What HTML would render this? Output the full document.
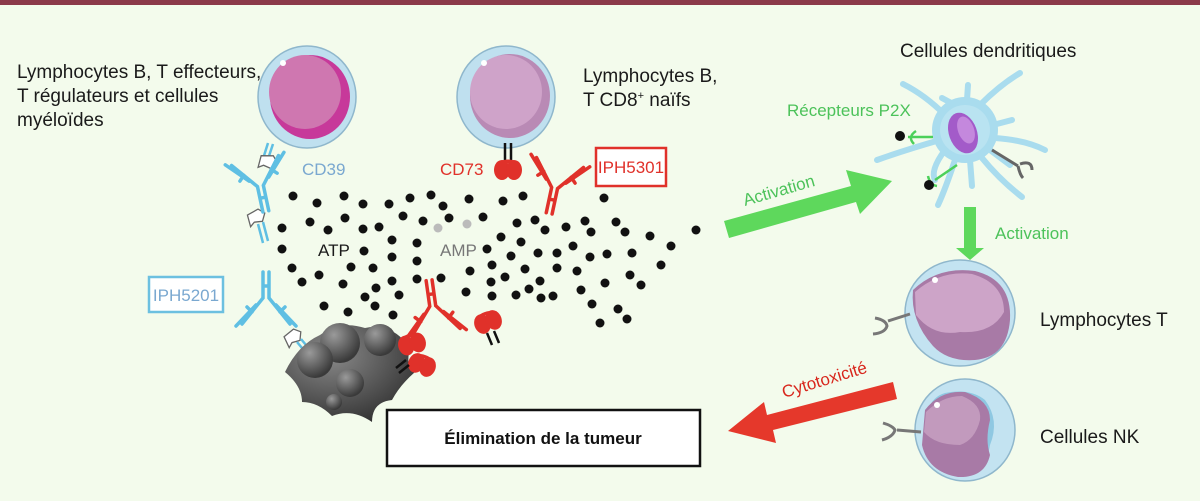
<!DOCTYPE html>
<html><head><meta charset="utf-8"><style>
html,body{margin:0;padding:0;background:#f3fbec;}
svg{display:block;}
text{font-family:"Liberation Sans",sans-serif;}
</style></head><body>
<svg width="1200" height="501" viewBox="0 0 1200 501" xmlns="http://www.w3.org/2000/svg">
<defs>
<radialGradient id="tum" cx="0.35" cy="0.3" r="0.8"><stop offset="0" stop-color="#8a8a8a"/><stop offset="1" stop-color="#2e2e2e"/></radialGradient>
<radialGradient id="bub" cx="0.35" cy="0.3" r="0.7"><stop offset="0" stop-color="#9a9a9a"/><stop offset="1" stop-color="#3a3a3a"/></radialGradient>
<g id="ab">
<path d="M-3,28 V2 L-24,-24 M3,28 V2 L24,-24 M-10,-5 L-30,-26 M10,-5 L30,-26 M-3,14 H3 M-14,-12 L-19,-7 M14,-12 L19,-7" fill="none" stroke-width="3.5" stroke-linecap="round"/>
</g>
<g id="cd39"><path d="M-8,-6 L4,-8 L9,-2 L4,5 L-4,3 L-9,6 Z" fill="#fff" stroke="#666" stroke-width="1.3"/></g>
<g id="cd73"><ellipse cx="-6" cy="0" rx="8" ry="10" fill="#e0312a"/><ellipse cx="6" cy="0" rx="8" ry="10" fill="#e0312a"/><path d="M-12,-7 Q0,-14 12,-7" fill="#e0312a"/></g>
</defs>
<rect x="0" y="0" width="1200" height="501" fill="#f3fbec"/>
<rect x="0" y="0" width="1200" height="5" fill="#8b3a4a"/>

<g font-size="19" fill="#1a1a1a">
<text x="17" y="78">Lymphocytes B, T effecteurs,</text>
<text x="17" y="102">T régulateurs et cellules</text>
<text x="17" y="126">myéloïdes</text>
<text x="583" y="82">Lymphocytes B,</text>
<text x="583" y="106">T CD8<tspan font-size="11" dy="-7">+</tspan><tspan dy="7"> naïfs</tspan></text>
<text x="900" y="57">Cellules dendritiques</text>
<text x="1040" y="326">Lymphocytes T</text>
<text x="1040" y="443">Cellules NK</text>
</g>

<ellipse cx="307" cy="97" rx="49" ry="51" fill="#bfe0ef" stroke="#8fb7cc" stroke-width="1.5"/>
<ellipse cx="310" cy="97" rx="40" ry="42" fill="#c7399a"/>
<ellipse cx="305" cy="92" rx="36" ry="37" fill="#cf77b0"/>
<circle cx="283" cy="63" r="3" fill="#fff"/>
<ellipse cx="506" cy="97" rx="49" ry="51" fill="#bfe0ef" stroke="#8fb7cc" stroke-width="1.5"/>
<ellipse cx="510" cy="96" rx="40" ry="42" fill="#b98ab5"/>
<ellipse cx="506" cy="92" rx="36" ry="37" fill="#cfa3c9"/>
<circle cx="484" cy="63" r="3" fill="#fff"/>

<path d="M268,143 L262,162 M273,144 L267,162" stroke="#5fbfe3" stroke-width="2.5"/>
<use href="#cd39" transform="translate(268,163) rotate(10)"/>
<use href="#cd39" transform="translate(257,218) rotate(-20)"/>
<path d="M258,224 L263,243 M263,222 L268,241" stroke="#5fbfe3" stroke-width="2.5"/>
<use href="#cd39" transform="translate(294,338) rotate(-30)"/>
<path d="M297,342 L307,354 M301,339 L311,351" stroke="#5fbfe3" stroke-width="2.5"/>

<g stroke="#5fbfe3"><use href="#ab" transform="translate(260,184) rotate(-12)"/>
<use href="#ab" transform="translate(266,300) rotate(180)"/></g>
<g stroke="#e0312a"><use href="#ab" transform="translate(555,186) rotate(12)"/>
<use href="#ab" transform="translate(433,308) rotate(172)"/></g>

<path d="M505,143 V160 M511,143 V160" stroke="#111" stroke-width="2.5"/>
<use href="#cd73" transform="translate(508,170)"/>
<use href="#cd73" transform="translate(488,322) rotate(-20)"/>
<path d="M487,333 L492,345 M494,331 L499,343" stroke="#111" stroke-width="2.5"/>

<path d="M285,372 Q298,345 320,335 Q340,320 365,328 Q392,322 410,348 Q405,368 415,372 Q400,385 392,400 Q372,402 372,422 Q352,408 332,416 Q318,402 302,402 Q302,386 285,372 Z" fill="url(#tum)"/>
<circle cx="340" cy="343" r="20" fill="url(#bub)"/>
<circle cx="380" cy="340" r="16" fill="url(#bub)"/>
<circle cx="315" cy="360" r="18" fill="url(#bub)"/>
<circle cx="350" cy="383" r="14" fill="url(#bub)"/>
<circle cx="334" cy="402" r="8" fill="url(#bub)"/>
<use href="#cd73" transform="translate(412,344) rotate(-15)"/>
<use href="#cd73" transform="translate(422,365) rotate(20)"/>
<path d="M396,368 L406,360 M399,373 L409,365" stroke="#111" stroke-width="2.5"/>

<text x="302" y="175" font-size="17" fill="#7aa8d0">CD39</text>
<text x="440" y="175" font-size="17" fill="#e0312a">CD73</text>
<rect x="596" y="148" width="70" height="38" fill="#fff" stroke="#e0312a" stroke-width="2.5"/>
<text x="631" y="173" font-size="17" fill="#e0312a" text-anchor="middle">IPH5301</text>
<rect x="149" y="277" width="74" height="35" fill="#fff" stroke="#6cc0e0" stroke-width="2.5"/>
<text x="186" y="301" font-size="17" fill="#7aa8d0" text-anchor="middle">IPH5201</text>
<text x="318" y="256" font-size="17" fill="#1a1a1a">ATP</text>
<text x="440" y="256" font-size="17" fill="#777">AMP</text>

<g fill="#111">
<circle cx="293" cy="196" r="4.5"/><circle cx="317" cy="203" r="4.5"/><circle cx="344" cy="196" r="4.5"/><circle cx="363" cy="204" r="4.5"/><circle cx="389" cy="204" r="4.5"/><circle cx="410" cy="198" r="4.5"/><circle cx="431" cy="195" r="4.5"/><circle cx="443" cy="206" r="4.5"/><circle cx="469" cy="199" r="4.5"/><circle cx="503" cy="201" r="4.5"/><circle cx="523" cy="196" r="4.5"/><circle cx="604" cy="198" r="4.5"/>
<circle cx="282" cy="228" r="4.5"/><circle cx="310" cy="222" r="4.5"/><circle cx="328" cy="230" r="4.5"/><circle cx="345" cy="218" r="4.5"/><circle cx="363" cy="229" r="4.5"/><circle cx="379" cy="227" r="4.5"/><circle cx="403" cy="216" r="4.5"/><circle cx="423" cy="221" r="4.5"/><circle cx="449" cy="218" r="4.5"/><circle cx="483" cy="217" r="4.5"/><circle cx="517" cy="223" r="4.5"/><circle cx="535" cy="220" r="4.5"/><circle cx="545" cy="230" r="4.5"/><circle cx="566" cy="227" r="4.5"/><circle cx="585" cy="221" r="4.5"/><circle cx="591" cy="232" r="4.5"/><circle cx="616" cy="222" r="4.5"/><circle cx="625" cy="232" r="4.5"/><circle cx="650" cy="236" r="4.5"/><circle cx="696" cy="230" r="4.5"/>
<circle cx="282" cy="249" r="4.5"/><circle cx="392" cy="240" r="4.5"/><circle cx="364" cy="251" r="4.5"/><circle cx="417" cy="243" r="4.5"/><circle cx="487" cy="249" r="4.5"/><circle cx="501" cy="237" r="4.5"/><circle cx="521" cy="242" r="4.5"/><circle cx="538" cy="253" r="4.5"/><circle cx="557" cy="253" r="4.5"/><circle cx="573" cy="246" r="4.5"/><circle cx="590" cy="257" r="4.5"/><circle cx="607" cy="254" r="4.5"/><circle cx="632" cy="253" r="4.5"/><circle cx="671" cy="246" r="4.5"/>
<circle cx="292" cy="268" r="4.5"/><circle cx="319" cy="275" r="4.5"/><circle cx="351" cy="267" r="4.5"/><circle cx="373" cy="268" r="4.5"/><circle cx="392" cy="257" r="4.5"/><circle cx="417" cy="261" r="4.5"/><circle cx="470" cy="271" r="4.5"/><circle cx="492" cy="265" r="4.5"/><circle cx="511" cy="256" r="4.5"/><circle cx="525" cy="269" r="4.5"/><circle cx="557" cy="268" r="4.5"/><circle cx="577" cy="271" r="4.5"/><circle cx="661" cy="265" r="4.5"/>
<circle cx="302" cy="282" r="4.5"/><circle cx="343" cy="284" r="4.5"/><circle cx="376" cy="288" r="4.5"/><circle cx="392" cy="281" r="4.5"/><circle cx="417" cy="279" r="4.5"/><circle cx="441" cy="278" r="4.5"/><circle cx="491" cy="282" r="4.5"/><circle cx="505" cy="277" r="4.5"/><circle cx="540" cy="281" r="4.5"/><circle cx="605" cy="283" r="4.5"/><circle cx="630" cy="275" r="4.5"/><circle cx="641" cy="285" r="4.5"/>
<circle cx="365" cy="297" r="4.5"/><circle cx="399" cy="295" r="4.5"/><circle cx="466" cy="292" r="4.5"/><circle cx="492" cy="296" r="4.5"/><circle cx="516" cy="295" r="4.5"/><circle cx="529" cy="289" r="4.5"/><circle cx="541" cy="298" r="4.5"/><circle cx="553" cy="296" r="4.5"/><circle cx="581" cy="290" r="4.5"/>
<circle cx="324" cy="306" r="4.5"/><circle cx="348" cy="312" r="4.5"/><circle cx="375" cy="306" r="4.5"/><circle cx="393" cy="315" r="4.5"/><circle cx="592" cy="304" r="4.5"/><circle cx="618" cy="309" r="4.5"/><circle cx="600" cy="323" r="4.5"/><circle cx="627" cy="319" r="4.5"/>
</g>
<circle cx="438" cy="228" r="4.5" fill="#bbb"/><circle cx="467" cy="224" r="4.5" fill="#bbb"/>

<polygon points="724,221 851,186 846,170 892,181 860,214 856,202 729,238" fill="#5ed85c"/>
<text x="0" y="0" font-size="17" fill="#4cc25a" transform="translate(745,206) rotate(-16)">Activation</text>

<g stroke="#a9dcee" stroke-width="6" stroke-linecap="round" fill="none">
<path d="M945,115 Q925,95 903,84"/>
<path d="M955,105 L942,98"/>
<path d="M967,100 L968,85"/>
<path d="M980,105 Q1000,85 1020,73"/>
<path d="M993,125 L1012,120"/>
<path d="M995,138 Q1025,140 1045,150"/>
<path d="M940,140 Q905,150 877,160"/>
<path d="M945,150 Q930,170 935,180"/>
<path d="M955,160 Q945,190 938,205"/>
<path d="M970,160 L972,186"/>
<path d="M982,158 Q1000,180 1022,197"/>
<path d="M990,150 L1010,165"/>
</g>
<circle cx="965" cy="130" r="33" fill="#a9dcee"/>
<circle cx="965" cy="130" r="25" fill="#b9e3f1"/>
<ellipse cx="963" cy="133" rx="14" ry="21" transform="rotate(-20 963 133)" fill="#a35bc9"/>
<ellipse cx="966" cy="130" rx="8" ry="14" transform="rotate(-20 966 130)" fill="#c488dd"/>
<path d="M933,137 L908,137 M916,131 Q907,137 914,144" stroke="#4cd05a" stroke-width="2.5" fill="none"/>
<circle cx="900" cy="136" r="5" fill="#111"/>
<path d="M957,165 L935,180 M928,176 Q930,185 937,186" stroke="#4cd05a" stroke-width="2.5" fill="none"/>
<circle cx="929" cy="185" r="5" fill="#111"/>
<path d="M992,150 L1018,166 M1020,164 Q1032,160 1032,170 M1018,166 Q1020,175 1023,178" stroke="#666" stroke-width="3" fill="none"/>
<text x="787" y="116" font-size="17" fill="#4cc25a">Récepteurs P2X</text>

<polygon points="964,207 976,207 976,248 984,248 970,260 956,248 964,248" fill="#5ed85c"/>
<text x="995" y="239" font-size="17" fill="#4cc25a">Activation</text>

<ellipse cx="960" cy="313" rx="55" ry="53" fill="#c3e3f1" stroke="#8fb7cc" stroke-width="1.5"/>
<path d="M913,290 Q938,266 975,271 Q1012,280 1010,320 Q1007,357 975,360 Q948,362 933,346 Q910,320 913,290 Z" fill="#a87aa6"/>
<path d="M915,292 Q940,270 972,274 Q1004,283 1004,312 Q992,334 960,332 Q933,337 916,315 Z" fill="#cda4c8"/>
<circle cx="935" cy="280" r="3" fill="#fff"/>
<path d="M910,314 L888,321 M875,318 Q886,320 887,326 Q885,333 873,334" stroke="#777" stroke-width="3" fill="none"/>
<ellipse cx="965" cy="430" rx="50" ry="51" fill="#c3e3f1" stroke="#8fb7cc" stroke-width="1.5"/>
<path d="M985,400 Q1000,420 990,445 Q985,475 965,476 Q935,476 925,450 Q920,400 945,393 Q970,388 985,400 Z" fill="#8fc8e2"/>
<path d="M925,410 Q940,390 965,392 Q990,400 990,420 Q985,440 990,455 Q985,478 958,477 Q928,472 922,445 Z" fill="#a87aa6"/>
<path d="M926,412 Q942,396 962,396 Q982,404 980,420 Q975,440 960,445 Q935,445 924,432 Z" fill="#c29abd"/>
<circle cx="937" cy="405" r="3" fill="#fff"/>
<path d="M921,432 L897,430 M883,423 Q893,426 895,430 Q893,437 882,440" stroke="#777" stroke-width="3" fill="none"/>

<polygon points="893,382 897,399 773,430 776,443 728,431 764,402 767,415" fill="#e5382b"/>
<text x="0" y="0" font-size="17" fill="#d8261c" transform="translate(784,398) rotate(-17)">Cytotoxicité</text>

<rect x="387" y="410" width="313" height="56" fill="#fff" stroke="#111" stroke-width="2.5"/>
<text x="543" y="444" font-size="17" font-weight="bold" fill="#111" text-anchor="middle">Élimination de la tumeur</text>
</svg>
</body></html>
